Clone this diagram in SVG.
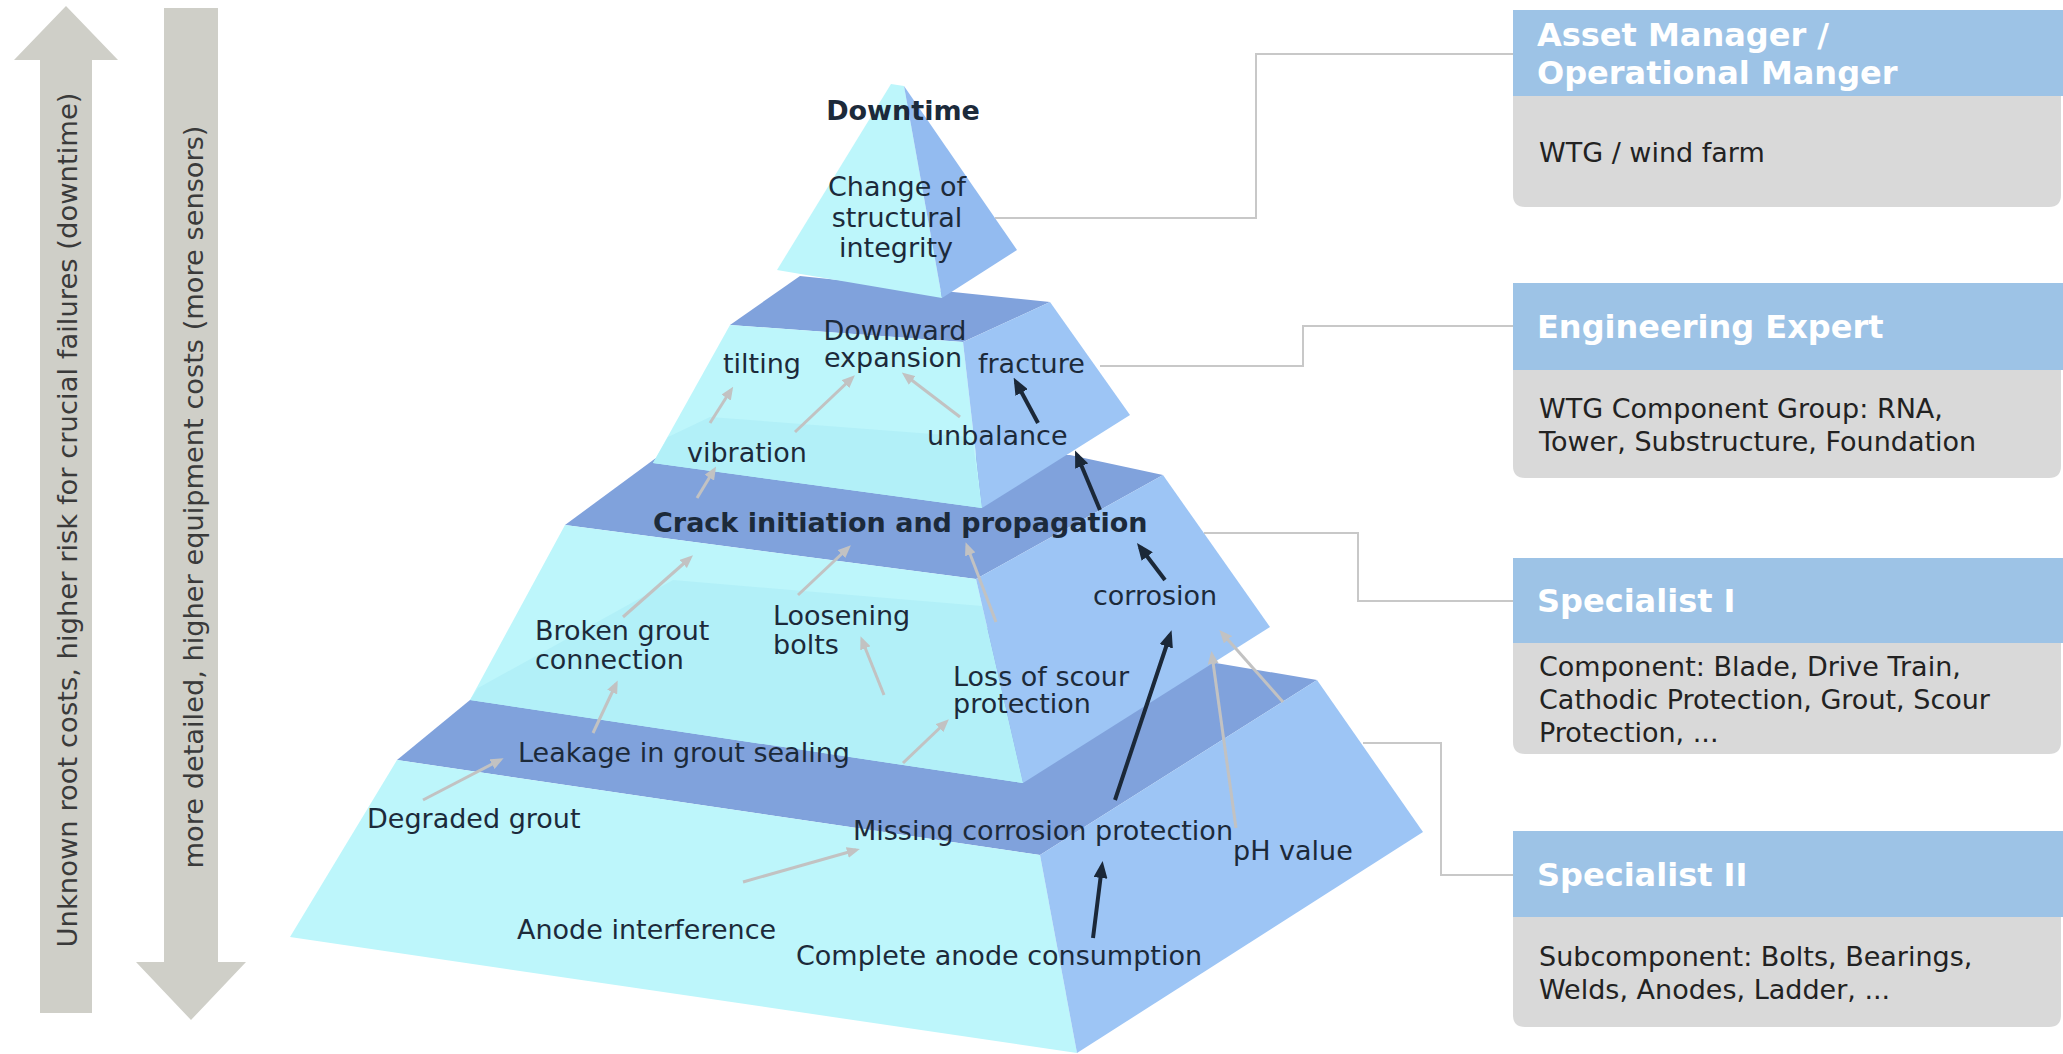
<svg xmlns="http://www.w3.org/2000/svg" width="2063" height="1054" viewBox="0 0 2063 1054">
<defs>
<style>
text{font-family:'DejaVu Sans',Verdana,sans-serif;}
.lbl{font-size:27px;fill:#1c2a3a;}
.bold{font-weight:bold;}
.side{font-size:27px;fill:#3a3a3a;}
.hdr{font-size:32px;font-weight:bold;fill:#ffffff;}
.body{font-size:27px;fill:#222222;}
.front{fill:#bdf6fb;}
.band{fill:#b2f0f8;}
.top{fill:#80a2dc;}
.right{fill:#9dc5f5;}
.capr{fill:#93bbf0;}
.sidearrow{fill:#cfcfc8;}
.hbar{fill:#9dc3e6;}
.hbody{fill:#d9d9d9;}
.gray{stroke:#c2c2c2;stroke-width:3;fill:none;marker-end:url(#ag);}
.dark{stroke:#1b2838;stroke-width:4;fill:none;marker-end:url(#ab);}
.leader{stroke:#c8c8c8;stroke-width:2;fill:none;}
</style>
<marker id="ag" viewBox="0 0 13 11" refX="9" refY="5.5" markerWidth="13" markerHeight="11" markerUnits="userSpaceOnUse" orient="auto"><path d="M0,0 L13,5.5 L0,11 z" fill="#c2c2c2"/></marker>
<marker id="ab" viewBox="0 0 17 14" refX="12" refY="7" markerWidth="17" markerHeight="14" markerUnits="userSpaceOnUse" orient="auto"><path d="M0,0 L17,7 L0,14 z" fill="#1b2838"/></marker>
</defs>
<rect width="2063" height="1054" fill="#ffffff"/>

<g id="side-arrows">
<g id="arrow-up">
<polygon class="sidearrow" points="66,6 118,60 92,60 92,1013 40,1013 40,60 14,60"/>
<text class="side" transform="translate(77,520) rotate(-90)" text-anchor="middle" textLength="855" lengthAdjust="spacingAndGlyphs">Unknown root costs, higher risk for crucial failures (downtime)</text>
</g>
<g id="arrow-down">
<polygon class="sidearrow" points="164,8 218,8 218,962 246,962 191,1020 136,962 164,962"/>
<text class="side" transform="translate(203,497) rotate(-90)" text-anchor="middle" textLength="743" lengthAdjust="spacingAndGlyphs">more detailed, higher equipment costs (more sensors)</text>
</g>
</g>

<g id="pyramid">
<g id="tier4">
<polygon class="top" points="397,760 470,700 800,600 1210,662 1317,680 1040,855"/>
<polygon class="front" points="397,760 1040,855 1077,1053 290,937"/>
<polygon class="right" points="1040,855 1317,680 1423,832 1077,1053"/>
</g>
<g id="tier3">
<polygon class="top" points="565,525 660,455 1070,455 1163,475 976,579"/>
<polygon class="front" points="565,525 976,579 1023,783 470,700"/>
<polygon class="band" points="478,688 673,580 982,606 1023,783 470,700"/>
<polygon class="right" points="976,579 1163,475 1270,627 1023,783"/>
</g>
<g id="tier2">
<polygon class="top" points="730,325 800,276 1050,302 963,342"/>
<polygon class="front" points="730,325 963,342 982,508 653,463"/>
<polygon class="band" points="668,437 710,417 972,437 982,508 653,463"/>
<polygon class="right" points="963,342 1050,302 1130,415 982,508"/>
</g>
<g id="tier1">
<polygon class="front" points="891,84 904,86 942,298 777,270"/>
<polygon class="capr" points="904,86 1017,250 942,298"/>
</g>
</g>

<g id="connectors">
<path class="leader" d="M995,218 H1256 V54 H1513"/>
<path class="leader" d="M1100,366 H1303 V326 H1513"/>
<path class="leader" d="M1204,533 H1358 V601 H1513"/>
<path class="leader" d="M1363,743 H1441 V875 H1513"/>
<line class="gray" x1="710" y1="423" x2="731" y2="390"/>
<line class="gray" x1="795" y1="432" x2="852" y2="378"/>
<line class="gray" x1="960" y1="417" x2="905" y2="375"/>
<line class="gray" x1="697" y1="498" x2="714" y2="470"/>
<line class="gray" x1="623" y1="617" x2="690" y2="558"/>
<line class="gray" x1="798" y1="595" x2="848" y2="548"/>
<line class="gray" x1="996" y1="622" x2="967" y2="546"/>
<line class="gray" x1="884" y1="695" x2="862" y2="640"/>
<line class="gray" x1="593" y1="733" x2="616" y2="684"/>
<line class="gray" x1="423" y1="800" x2="500" y2="760"/>
<line class="gray" x1="903" y1="763" x2="946" y2="722"/>
<line class="gray" x1="743" y1="882" x2="856" y2="850"/>
<line class="gray" x1="1236" y1="828" x2="1212" y2="655"/>
<line class="gray" x1="1283" y1="702" x2="1222" y2="633"/>
<line class="dark" x1="1038" y1="423" x2="1016" y2="382"/>
<line class="dark" x1="1100" y1="510" x2="1077" y2="455"/>
<line class="dark" x1="1165" y1="580" x2="1140" y2="547"/>
<line class="dark" x1="1115" y1="800" x2="1170" y2="635"/>
<line class="dark" x1="1093" y1="938" x2="1102" y2="866"/>
</g>

<g id="labels">
<g id="n-downtime"><text class="lbl bold" x="903" y="120" text-anchor="middle">Downtime</text></g>
<g id="n-structural"><text class="lbl" text-anchor="middle"><tspan x="897" y="196">Change of</tspan><tspan x="897" y="227">structural</tspan><tspan x="896" y="257">integrity</tspan></text></g>
<g id="n-downward"><text class="lbl" text-anchor="middle"><tspan x="895" y="340">Downward</tspan><tspan x="893" y="367">expansion</tspan></text></g>
<g id="n-tilting"><text class="lbl" x="723" y="373">tilting</text></g>
<g id="n-fracture"><text class="lbl" x="978" y="373">fracture</text></g>
<g id="n-vibration"><text class="lbl" x="687" y="462">vibration</text></g>
<g id="n-unbalance"><text class="lbl" x="927" y="445">unbalance</text></g>
<g id="n-crack"><text class="lbl bold" x="653" y="532">Crack initiation and propagation</text></g>
<g id="n-corrosion"><text class="lbl" x="1093" y="605">corrosion</text></g>
<g id="n-broken"><text class="lbl"><tspan x="535" y="640">Broken grout</tspan><tspan x="535" y="669">connection</tspan></text></g>
<g id="n-loosening"><text class="lbl"><tspan x="773" y="625">Loosening</tspan><tspan x="773" y="654">bolts</tspan></text></g>
<g id="n-scour"><text class="lbl"><tspan x="953" y="686">Loss of scour</tspan><tspan x="953" y="713">protection</tspan></text></g>
<g id="n-leakage"><text class="lbl" x="518" y="762">Leakage in grout sealing</text></g>
<g id="n-degraded"><text class="lbl" x="367" y="828">Degraded grout</text></g>
<g id="n-missing"><text class="lbl" x="853" y="840">Missing corrosion protection</text></g>
<g id="n-ph"><text class="lbl" x="1233" y="860">pH value</text></g>
<g id="n-anode"><text class="lbl" x="517" y="939">Anode interference</text></g>
<g id="n-complete"><text class="lbl" x="796" y="965">Complete anode consumption</text></g>
</g>

<g id="box-asset-manager">
<path class="hbody" d="M1513,96 H2061 V195 Q2061,207 2049,207 H1525 Q1513,207 1513,195 Z"/>
<rect class="hbar" x="1513" y="10" width="550" height="86"/>
<text class="hdr"><tspan x="1537" y="46">Asset Manager /</tspan><tspan x="1537" y="84">Operational Manger</tspan></text>
<text class="body" x="1539" y="162">WTG / wind farm</text>
</g>
<g id="box-engineering-expert">
<path class="hbody" d="M1513,370 H2061 V466 Q2061,478 2049,478 H1525 Q1513,478 1513,466 Z"/>
<rect class="hbar" x="1513" y="283" width="550" height="87"/>
<text class="hdr" x="1537" y="338">Engineering Expert</text>
<text class="body"><tspan x="1539" y="418">WTG Component Group: RNA,</tspan><tspan x="1539" y="451">Tower, Substructure, Foundation</tspan></text>
</g>
<g id="box-specialist-1">
<path class="hbody" d="M1513,643 H2061 V742 Q2061,754 2049,754 H1525 Q1513,754 1513,742 Z"/>
<rect class="hbar" x="1513" y="558" width="550" height="85"/>
<text class="hdr" x="1537" y="612">Specialist I</text>
<text class="body"><tspan x="1539" y="676">Component: Blade, Drive Train,</tspan><tspan x="1539" y="709">Cathodic Protection, Grout, Scour</tspan><tspan x="1539" y="742">Protection, ...</tspan></text>
</g>
<g id="box-specialist-2">
<path class="hbody" d="M1513,917 H2061 V1015 Q2061,1027 2049,1027 H1525 Q1513,1027 1513,1015 Z"/>
<rect class="hbar" x="1513" y="831" width="550" height="86"/>
<text class="hdr" x="1537" y="886">Specialist II</text>
<text class="body"><tspan x="1539" y="966">Subcomponent: Bolts, Bearings,</tspan><tspan x="1539" y="999">Welds, Anodes, Ladder, ...</tspan></text>
</g>
</svg>
